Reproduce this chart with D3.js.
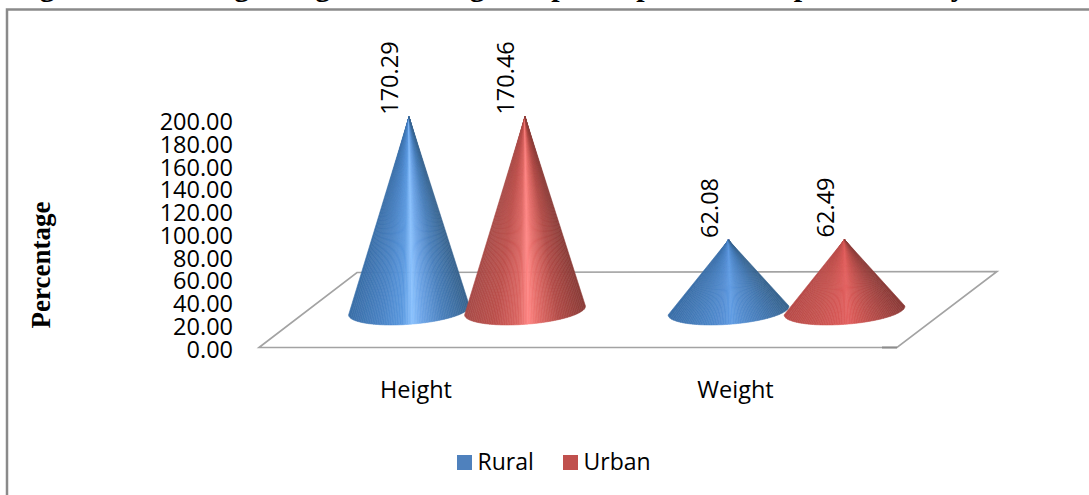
<!DOCTYPE html>
<html>
<head>
<meta charset="utf-8">
<script src="https://cdn.jsdelivr.net/npm/d3@7"></script>
<style>
    html, body { margin: 0; padding: 0; background: #fff; overflow: hidden; }
    svg { display: block; }
    text { fill: #000; }
</style>
</head>
<body>
<div id="chart"></div>
<script>
//chart data
const categories = ["Height", "Weight"];
const seriesNames = ["Rural", "Urban"];
const rural = [170.29, 62.08];
const urban = [170.46, 62.49];
const yTicks = [0, 20, 40, 60, 80, 100, 120, 140, 160, 180, 200];
const titleText = "Figure 4.2: Average Height and Weight of participants in the present study";
const yTitle = "Percentage";

const width = 1089, height = 495;
const labelFont = "'Open Sans', sans-serif";
const serifFont = "'Liberation Serif', serif";

const svg = d3.select("#chart").append("svg")
    .attr("width", width)
    .attr("height", height);

//small blur so the cone slices melt together
svg.append("defs").append("filter")
    .attr("id", "soft")
    .attr("x", "-5%").attr("y", "-5%")
    .attr("width", "110%").attr("height", "110%")
    .append("feGaussianBlur")
    .attr("stdDeviation", 0.7);

//title is cut by the top of the picture, only descenders show
svg.append("text")
    .attr("x", 13)
    .attr("y", -4)
    .style("font-family", serifFont)
    .style("font-weight", "bold")
    .style("font-size", "30px")
    .text(titleText);

//outer frame, runs off the right and bottom
svg.append("path")
    .attr("d", d3.line()([[7, height], [7, 9.5], [width, 9.5]]))
    .attr("fill", "none")
    .attr("stroke", "#8a8a8a")
    .attr("stroke-width", 2.5);

//scales
const x = d3.scaleBand().domain(categories).range([307.25, 946.25]);
const xSeries = d3.scalePoint().domain(seriesNames).range([-58, 58]);
const y = d3.scaleLinear().domain([0, 200]).range([348, 120.5]);

//floor of the 3d plot
const floorColor = "#a3a3a3";
svg.append("path")
    .attr("d", d3.line()([[259, 347.5], [357, 272.5], [997, 271.5], [897, 347.5]]) + "Z")
    .attr("fill", "#fff")
    .attr("stroke", floorColor)
    .attr("stroke-width", 1.6);
svg.append("line")
    .attr("x1", 882).attr("x2", 897)
    .attr("y1", 347.5).attr("y2", 347.5)
    .attr("stroke", "#8c8c8c")
    .attr("stroke-width", 2);

//y axis
const yAxis = svg.append("g")
    .attr("transform", "translate(240,1.5)")
    .call(d3.axisLeft(y).tickValues(yTicks).tickSize(0).tickPadding(7).tickFormat(d3.format(".2f")));
yAxis.select(".domain").remove();
yAxis.selectAll("text")
    .style("font-family", labelFont)
    .style("font-size", "23.5px")
    .style("fill", "#000");

svg.append("text")
    .attr("transform", "translate(50,265) rotate(-90)")
    .attr("text-anchor", "middle")
    .style("font-family", serifFont)
    .style("font-weight", "bold")
    .style("font-size", "27px")
    .text(yTitle);

//cone shading, position across the base -> colour
const stops = [0, 0.25, 0.44, 0.52, 0.6, 0.78, 1];
const shades = {
    Rural: {
        Height: ["#3b6fa8", "#4a83c4", "#5c9ae0", "#8ac1fd", "#6ea6e8", "#4a80bc", "#38648f"],
        Weight: ["#3b6fa8", "#4880bf", "#568fd4", "#619de4", "#568fd2", "#467bb6", "#38648f"]
    },
    Urban: {
        Height: ["#a84c48", "#bd514d", "#dc6763", "#ff8684", "#e56e6a", "#b24c48", "#8b3c39"],
        Weight: ["#b84b48", "#c65450", "#d85a58", "#e36160", "#d25855", "#b04a47", "#8a3a37"]
    }
};

const baseOffset = 37.5;
const baseRx = 60.6, baseRy = 13.8;
const tilt = -4.25 * Math.PI / 180;
const sliceCount = 70;

function basePoint(cx, cy, t) {
    //t runs evenly across the width of the base, left to right
    let a = Math.PI - Math.acos(1 - 2 * t);
    let ex = baseRx * Math.cos(a), ey = baseRy * Math.sin(a);
    return [cx + ex * Math.cos(tilt) - ey * Math.sin(tilt),
            cy + ex * Math.sin(tilt) + ey * Math.cos(tilt)];
}

function drawCone(seriesName, values) {
    let g = svg.append("g").attr("class", "series_" + seriesName);

    categories.forEach((cat, c) => {
        let cx = x(cat) + x.bandwidth() / 2 + xSeries(seriesName);
        let cy = y(0) - baseOffset;
        let apex = [cx, y(values[c]) - baseOffset];
        let color = d3.scaleLinear().domain(stops).range(shades[seriesName][cat]);

        //thin triangles from the tip to the front half of the base
        g.append("g").attr("filter", "url(#soft)")
            .selectAll("path").data(d3.range(sliceCount))
            .enter()
            .append("path")
            .attr("d", i => {
                //extra points keep the base round at the far left and right
                let pts = d3.range(9).map(k => basePoint(cx, cy, (i + k / 8) / sliceCount));
                return d3.line()([apex].concat(pts)) + "Z";
            })
            .attr("fill", i => color((i + 0.5) / sliceCount))
            .attr("stroke", i => color((i + 0.5) / sliceCount))
            .attr("stroke-width", 0.6);

        //value label above the tip
        g.append("text")
            .attr("transform", "translate(" + (cx - 11) + "," + (apex[1] - 2) + ") rotate(-90)")
            .style("font-family", labelFont)
            .style("font-size", "23.5px")
            .text(d3.format(".2f")(values[c]));
    });
}

drawCone("Rural", rural);
drawCone("Urban", urban);

//category labels, shifted left with the floor
svg.selectAll(".catLabel").data(categories)
    .enter()
    .append("text")
    .attr("class", "catLabel")
    .attr("x", d => x(d) + x.bandwidth() / 2 - 51)
    .attr("y", 398)
    .attr("text-anchor", "middle")
    .style("font-family", labelFont)
    .style("font-size", "23.5px")
    .text(d => d);

//legend
const legendColor = d3.scaleOrdinal().domain(seriesNames).range(["#4f81bd", "#c0504d"]);
const legendX = d3.scaleOrdinal().domain(seriesNames).range([457, 563]);
const legend = svg.selectAll(".legendItem").data(seriesNames)
    .enter()
    .append("g")
    .attr("class", "legendItem")
    .attr("transform", d => "translate(" + legendX(d) + ",455)");
legend.append("rect")
    .attr("width", 15)
    .attr("height", 15)
    .attr("fill", d => legendColor(d));
legend.append("text")
    .attr("x", 20.5)
    .attr("y", 15)
    .style("font-family", labelFont)
    .style("font-size", "23px")
    .text(d => d);
</script>
</body>
</html>
